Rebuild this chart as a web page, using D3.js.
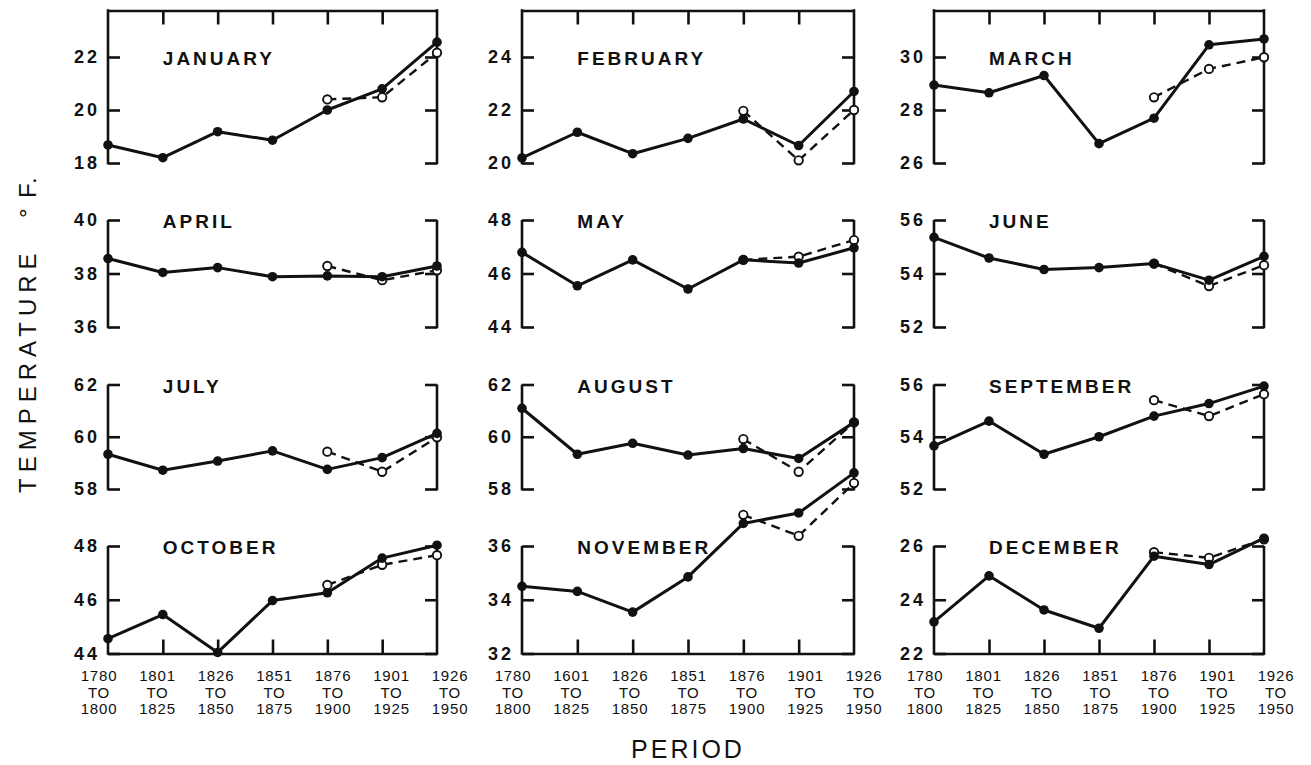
<!DOCTYPE html>
<html><head><meta charset="utf-8">
<script src="https://cdn.jsdelivr.net/npm/d3@7"></script>
<style>
html,body{margin:0;padding:0;background:#fff;}
svg{display:block;}
</style></head><body>
<svg id="chart" width="1311" height="765"></svg>
<script>
// ---------------- data ----------------
const months = ["JANUARY","FEBRUARY","MARCH","APRIL","MAY","JUNE","JULY","AUGUST","SEPTEMBER","OCTOBER","NOVEMBER","DECEMBER"];
const periodFrom = ["1780","1801","1826","1851","1876","1901","1926"];
const periodTo = ["1800","1825","1850","1875","1900","1925","1950"];
// labels as printed under each column (middle column misprints 1801 as 1601)
const periodFromLabels = [
  ["1780","1801","1826","1851","1876","1901","1926"],
  ["1780","1601","1826","1851","1876","1901","1926"],
  ["1780","1801","1826","1851","1876","1901","1926"]
];
const tickMin = [18,20,26,36,44,52,58,58,52,44,32,22];
const tickStep = 2;
const solidSeries = [
  [18.68,18.20,19.18,18.86,20.00,20.80,22.56],
  [20.19,21.16,20.35,20.93,21.66,20.66,22.70],
  [28.94,28.65,29.30,26.73,27.69,30.46,30.68],
  [38.56,38.04,38.22,37.88,37.91,37.88,38.28],
  [46.79,45.54,46.51,45.42,46.51,46.39,46.96],
  [55.35,54.58,54.15,54.22,54.37,53.75,54.64],
  [59.33,58.72,59.07,59.46,58.75,59.20,60.13],
  [61.09,59.33,59.75,59.30,59.55,59.17,60.55],
  [53.65,54.60,53.33,54.00,54.79,55.27,55.94],
  [44.55,45.45,44.04,45.97,46.26,47.55,48.03],
  [34.50,34.31,33.54,34.85,36.84,37.23,38.72],
  [23.18,24.89,23.62,22.94,25.62,25.31,26.29]
];
const dashedPeriods = ["1876","1901","1926"];
const dashedSeries = [
  [20.40,20.48,22.16],
  [21.97,20.10,22.00],
  [28.48,29.55,29.99],
  [38.28,37.75,38.12],
  [46.51,46.63,47.25],
  [54.37,53.53,54.31],
  [59.43,58.66,59.98],
  [59.91,58.66,60.55],
  [55.40,54.79,55.63],
  [46.55,47.30,47.66],
  [37.16,36.38,38.34],
  [25.77,25.56,26.25]
];

// ---------------- layout ----------------
const svg = d3.select("#chart");
const ink = "#111";
const sans = "'Liberation Sans', Arial, sans-serif";
const colX0 = [108, 522, 934], colX1 = [437, 854, 1264];
const rowTop = [57, 220, 384.5, 546], rowBottom = [163, 327, 489, 653.5];
const topBorderY = 10.5;
const axisW = 2.6;

months.forEach((name, i) => {
  const r = Math.floor(i / 3), c = i % 3;
  const x0 = colX0[c], x1 = colX1[c];
  const x = d3.scalePoint().domain(periodFrom).range([x0, x1]);
  const ticks = [0, 1, 2].map(k => tickMin[i] + k * tickStep);
  const y = d3.scaleLinear().domain([ticks[0], ticks[2]]).range([rowBottom[r], rowTop[r]]);
  const g = svg.append("g");
  const frameTop = r === 0 ? topBorderY : y(ticks[2]);
  const frameBottom = y(ticks[0]);

  // vertical frame lines
  [x0, x1].forEach(xx => {
    g.append("line").attr("x1", xx).attr("x2", xx)
      .attr("y1", frameTop - (r === 0 ? axisW / 2 : 0)).attr("y2", frameBottom + axisW / 2)
      .attr("stroke", ink).attr("stroke-width", axisW);
  });

  // left axis (ticks pointing inward, labels outside)
  const la = g.append("g").attr("transform", `translate(${x0},0)`)
    .call(d3.axisLeft(y).tickValues(ticks).tickSize(-12).tickSizeOuter(0).tickPadding(8).tickFormat(d3.format("d")));
  la.select(".domain").remove();
  la.selectAll(".tick line").attr("stroke", ink).attr("stroke-width", axisW);
  la.selectAll(".tick text").attr("fill", ink)
    .style("font-family", sans).style("font-size", "18px").style("font-weight", "bold").style("letter-spacing", "3px");

  // right axis (ticks pointing inward)
  const ra = g.append("g").attr("transform", `translate(${x1},0)`)
    .call(d3.axisRight(y).tickValues(ticks).tickSize(-12).tickSizeOuter(0).tickFormat(""));
  ra.select(".domain").remove();
  ra.selectAll(".tick line").attr("stroke", ink).attr("stroke-width", axisW);

  const interior = periodFrom.slice(1, 6);
  if (r === 0) {
    const ta = g.append("g").attr("transform", `translate(0,${topBorderY})`)
      .call(d3.axisTop(x).tickValues(interior).tickSize(-14).tickSizeOuter(0).tickFormat(""));
    ta.select(".domain").attr("stroke", ink).attr("stroke-width", axisW);
    ta.selectAll(".tick line").attr("stroke", ink).attr("stroke-width", axisW);
  }
  if (r === 3) {
    const ba = g.append("g").attr("transform", `translate(0,${frameBottom})`)
      .call(d3.axisBottom(x).tickValues(interior).tickSize(-14).tickSizeOuter(0).tickFormat(""));
    ba.select(".domain").attr("stroke", ink).attr("stroke-width", axisW);
    ba.selectAll(".tick line").attr("stroke", ink).attr("stroke-width", axisW);

    // period labels
    const xl = d3.scalePoint().domain(periodFrom).range([x0 - 9, x0 + 342]);
    const lab = g.append("g").style("font-family", sans).style("font-size", "15px")
      .style("letter-spacing", "0.8px").attr("fill", ink).attr("text-anchor", "middle");
    periodFrom.forEach((p, k) => {
      const t = lab.append("text").attr("x", xl(p)).attr("y", 681);
      t.append("tspan").attr("x", xl(p)).attr("y", 681).text(periodFromLabels[c][k]);
      t.append("tspan").attr("x", xl(p)).attr("y", 697.5).text("TO");
      t.append("tspan").attr("x", xl(p)).attr("y", 714).text(periodTo[k]);
    });
  }

  // month title
  g.append("text").attr("x", x(periodFrom[1])).attr("y", y(ticks[2]) + 8)
    .attr("fill", ink).style("font-family", sans).style("font-size", "19px")
    .style("font-weight", "bold").style("letter-spacing", "3px").text(name);

  // dashed series
  const dData = dashedSeries[i].map((v, k) => ({p: dashedPeriods[k], v}));
  g.append("path").datum(dData)
    .attr("d", d3.line().x(d => x(d.p)).y(d => y(d.v)))
    .attr("fill", "none").attr("stroke", ink).attr("stroke-width", 2.4).attr("stroke-dasharray", "9,6");
  g.selectAll("circle.open").data(dData).join("circle").attr("class", "open")
    .attr("cx", d => x(d.p)).attr("cy", d => y(d.v)).attr("r", 4.2)
    .attr("fill", "#fff").attr("stroke", ink).attr("stroke-width", 1.9);

  // solid series
  const sData = solidSeries[i].map((v, k) => ({p: periodFrom[k], v}));
  g.append("path").datum(sData)
    .attr("d", d3.line().x(d => x(d.p)).y(d => y(d.v)))
    .attr("fill", "none").attr("stroke", ink).attr("stroke-width", 3).attr("stroke-linejoin", "round");
  g.selectAll("circle.fill").data(sData).join("circle").attr("class", "fill")
    .attr("cx", d => x(d.p)).attr("cy", d => y(d.v)).attr("r", 4.8).attr("fill", ink);
});

// axis titles
const yt = svg.append("g").attr("fill", ink).style("font-family", sans).style("font-size", "24px");
yt.append("text").attr("transform", "translate(36,493) rotate(-90)").style("letter-spacing", "6px").text("TEMPERATURE");
yt.append("text").attr("transform", "translate(36,218) rotate(-90)").text("°");
yt.append("text").attr("transform", "translate(36,198) rotate(-90)").style("letter-spacing", "2px").text("F.");

svg.append("text").attr("x", 688).attr("y", 758).attr("text-anchor", "middle")
  .attr("fill", ink).style("font-family", sans).style("font-size", "25px").style("letter-spacing", "3px").text("PERIOD");
</script>
</body></html>
